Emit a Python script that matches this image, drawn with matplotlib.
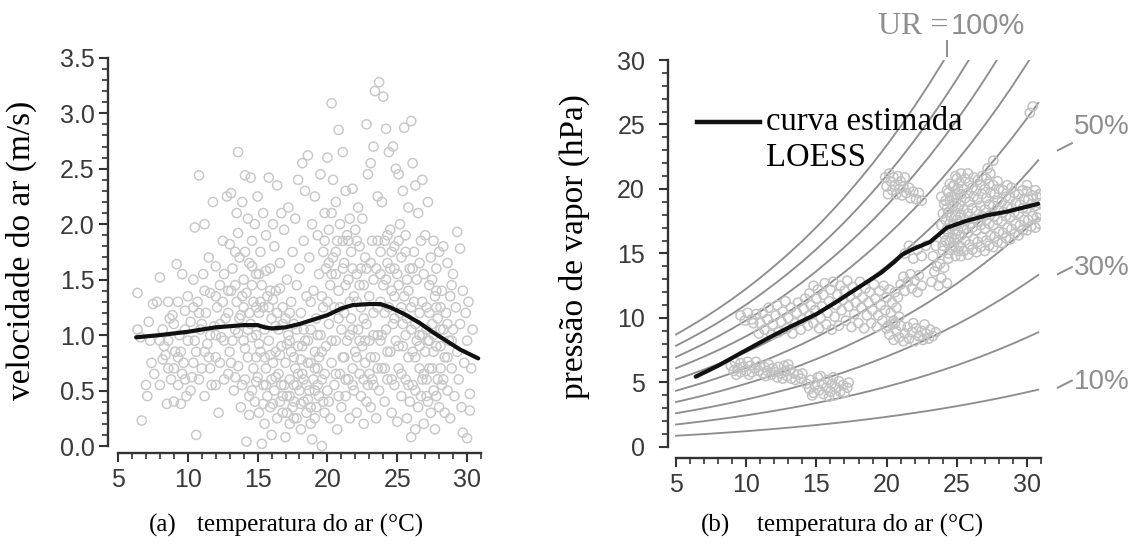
import matplotlib
matplotlib.use("Agg")
import matplotlib.pyplot as plt
from matplotlib.lines import Line2D
from matplotlib.ticker import MultipleLocator, FormatStrFormatter

# ---- (a) air temperature (°C) vs wind speed (m/s) ----
wind_pts = [
    (6.4, 1.38), (6.4, 1.05), (6.7, 0.23), (6.6, 0.98), (7.0, 0.55), (7.1, 0.45), (7.2, 1.12),
    (7.3, 0.95), (7.5, 1.28), (7.6, 0.65), (7.4, 0.75),
    (7.8, 1.30), (8.0, 1.52), (8.2, 1.05), (8.3, 0.90), (8.4, 0.82), (8.5, 0.38), (8.6, 0.70),
    (8.7, 1.15), (8.8, 0.60), (8.9, 1.18), (9.0, 0.40), (9.1, 0.85), (9.2, 1.64), (9.3, 0.55),
    (9.4, 1.00), (9.5, 0.38), (9.6, 1.55), (9.7, 0.75), (9.8, 1.22), (9.9, 0.45), (10.0, 0.95),
    (10.0, 1.35), (9.0, 1.10), (8.2, 0.78), (9.6, 0.65),
    (10.2, 1.12), (10.3, 0.62), (10.4, 1.50), (10.5, 1.97), (10.6, 0.10), (10.6, 0.85), (10.7, 1.30),
    (10.8, 2.44), (10.9, 1.05), (11.0, 0.70), (11.1, 1.55), (11.2, 2.00), (11.2, 0.45), (11.3, 1.20),
    (11.4, 0.92), (11.5, 1.70), (11.6, 1.38), (11.7, 0.55), (11.8, 2.20), (11.9, 1.08), (12.0, 0.80),
    (12.0, 1.62), (12.1, 1.25), (12.2, 0.30), (12.3, 1.45), (12.4, 0.98), (12.5, 1.85), (12.6, 0.60),
    (12.7, 1.15), (12.8, 2.25), (12.9, 1.40), (13.0, 0.85), (13.0, 1.82),
    (13.1, 2.28), (13.2, 1.60), (13.3, 0.50), (13.4, 1.05), (13.5, 2.10), (13.5, 1.30), (13.6, 2.65),
    (13.6, 0.72), (13.7, 1.70), (13.8, 0.35), (13.8, 1.18), (13.9, 2.20), (14.0, 0.95), (14.0, 1.50),
    (14.1, 2.44), (14.1, 0.60), (14.2, 0.04), (14.2, 1.38), (14.3, 2.05), (14.3, 0.80), (14.4, 1.65),
    (14.4, 0.28), (14.5, 2.42), (14.5, 1.10), (14.6, 0.50), (14.6, 1.85), (14.7, 0.70), (14.7, 1.30),
    (14.8, 2.00), (14.8, 0.40), (14.9, 1.00), (14.9, 1.55), (15.0, 0.62), (15.0, 2.25), (15.1, 1.20),
    (15.1, 0.30), (15.2, 1.75), (15.2, 0.85), (15.3, 0.02), (15.3, 1.45), (15.4, 0.55), (15.4, 2.10),
    (15.5, 1.05), (15.5, 0.20), (15.6, 1.90), (15.6, 0.70), (15.7, 1.35), (15.7, 0.45), (15.8, 2.42),
    (15.8, 0.95), (15.9, 1.60), (15.9, 0.35), (16.0, 0.10), (16.0, 1.15), (16.0, 0.60), (16.1, 2.00),
    (16.2, 1.80), (16.2, 0.50), (16.3, 0.85), (16.3, 1.40), (16.4, 0.25), (16.4, 2.35), (16.5, 1.05),
    (16.5, 0.65), (16.6, 1.65), (16.6, 0.40), (16.7, 2.10), (16.7, 0.90), (16.8, 0.30), (16.8, 1.25),
    (16.9, 0.55), (16.9, 1.95), (17.0, 0.75), (17.0, 0.08), (17.1, 1.50), (17.1, 0.45), (17.2, 2.15),
    (17.2, 1.00), (17.3, 0.60), (17.3, 0.20), (17.4, 1.30), (17.4, 0.85), (17.5, 1.75), (17.5, 0.35),
    (17.6, 0.55), (17.6, 1.10), (17.7, 2.05), (17.7, 0.70), (17.8, 0.25), (17.8, 1.45), (17.9, 0.90),
    (17.9, 2.40), (18.0, 0.50), (18.0, 1.60), (18.1, 0.15), (18.1, 1.20), (18.2, 2.55), (18.2, 0.65),
    (18.3, 0.40), (18.3, 1.85), (18.4, 0.95), (18.4, 2.30), (18.5, 0.30), (18.5, 1.35), (18.6, 0.75),
    (18.6, 2.62), (18.7, 0.50), (18.7, 1.70), (18.8, 1.05), (18.8, 0.20), (18.9, 0.06), (18.9, 2.00),
    (19.0, 0.60), (19.0, 1.40), (19.1, 0.85), (19.1, 2.25), (19.2, 0.35), (19.2, 1.15), (19.3, 1.90),
    (19.3, 0.70), (19.4, 0.45), (19.4, 1.55), (19.5, 2.45), (19.5, 1.00), (19.6, 0.00), (19.6, 0.60),
    (19.7, 1.75), (19.7, 1.25), (19.8, 2.10), (19.8, 0.30), (19.9, 0.90), (19.9, 1.60), (20.0, 2.60),
    (20.0, 0.50),
    (20.1, 1.95), (20.1, 1.10), (20.2, 0.25), (20.2, 1.45), (20.3, 3.09), (20.3, 0.75), (20.4, 2.40),
    (20.4, 1.70), (20.5, 0.55), (20.5, 1.25), (20.6, 2.20), (20.6, 0.95), (20.7, 0.15), (20.7, 1.85),
    (20.8, 2.85), (20.8, 1.40), (20.9, 0.65), (20.9, 2.00), (21.0, 1.05), (21.0, 0.35), (21.1, 2.65),
    (21.1, 1.60), (21.2, 0.80), (21.2, 1.20), (21.3, 2.30), (21.3, 0.45), (21.4, 1.90), (21.4, 0.95),
    (21.5, 1.50), (21.5, 0.60), (21.6, 2.05), (21.6, 0.25), (21.7, 1.15), (21.7, 1.75), (21.8, 2.32),
    (21.8, 0.70), (21.9, 1.35), (21.9, 0.50), (22.0, 1.95), (22.0, 0.85),
    (22.1, 1.55), (22.1, 0.30), (22.2, 2.15), (22.2, 1.05), (22.3, 0.65), (22.3, 1.80), (22.4, 1.25),
    (22.4, 0.45), (22.5, 2.05), (22.5, 0.90), (22.6, 1.45), (22.6, 0.20), (22.7, 1.70), (22.7, 0.75),
    (22.8, 2.90), (22.8, 1.10), (22.9, 0.55), (22.9, 2.45), (23.0, 1.35), (23.0, 0.95), (23.1, 2.55),
    (23.1, 0.35), (23.2, 1.85), (23.2, 0.60), (23.3, 2.70), (23.3, 1.20), (23.4, 3.20), (23.4, 0.80),
    (23.5, 1.60), (23.5, 0.25), (23.6, 2.25), (23.6, 1.00), (23.7, 3.28), (23.7, 0.50), (23.8, 1.75),
    (23.8, 1.30), (23.9, 2.20), (23.9, 0.70), (24.0, 3.15), (24.0, 1.45),
    (24.1, 0.40), (24.1, 1.85), (24.2, 2.86), (24.2, 1.05), (24.3, 0.60), (24.3, 1.65), (24.4, 2.65),
    (24.4, 1.25), (24.5, 0.85), (24.5, 1.95), (24.6, 0.30), (24.6, 1.40), (24.7, 2.70), (24.7, 1.10),
    (24.8, 0.55), (24.8, 1.80), (24.9, 2.50), (24.9, 0.95), (25.0, 0.22), (25.0, 1.55), (25.1, 2.45),
    (25.1, 0.70), (25.2, 1.20), (25.2, 2.00), (25.3, 0.45), (25.3, 1.70), (25.4, 2.30), (25.4, 0.90),
    (25.5, 2.87), (25.5, 1.35), (25.6, 0.60), (25.6, 1.90), (25.7, 0.25), (25.7, 1.15), (25.8, 2.15),
    (25.8, 0.80), (25.9, 1.60), (25.9, 0.40), (26.0, 2.93), (26.0, 0.08), (26.0, 1.05),
    (26.1, 2.55), (26.1, 0.55), (26.2, 1.75), (26.2, 1.30), (26.3, 0.15), (26.3, 2.35), (26.4, 0.95),
    (26.4, 1.50), (26.5, 0.35), (26.5, 2.10), (26.6, 1.20), (26.6, 0.70), (26.7, 1.85), (26.7, 0.45),
    (26.8, 2.40), (26.8, 1.00), (26.9, 0.20), (26.9, 1.55), (27.0, 0.85), (27.0, 1.90), (27.1, 0.60),
    (27.1, 1.25), (27.2, 2.20), (27.2, 0.40), (27.3, 1.45), (27.3, 0.95), (27.4, 1.70), (27.4, 0.30),
    (27.5, 1.10), (27.5, 0.70), (27.6, 1.85), (27.6, 0.50), (27.7, 1.35), (27.7, 0.15), (27.8, 0.90),
    (27.8, 1.60), (27.9, 0.60), (27.9, 1.15), (28.0, 1.75), (28.0, 0.35),
    (28.1, 1.05), (28.2, 0.55), (28.2, 1.40), (28.3, 1.80), (28.4, 0.80), (28.4, 0.30), (28.5, 1.20),
    (28.6, 1.65), (28.6, 0.50), (28.7, 0.95), (28.8, 1.35), (28.8, 0.25), (28.9, 0.70), (29.0, 1.55),
    (29.0, 1.05), (29.1, 0.45), (29.2, 1.25), (29.3, 1.93), (29.3, 0.85), (29.4, 0.60), (29.5, 1.78),
    (29.5, 1.10), (29.6, 0.35), (29.7, 0.12), (29.7, 1.40), (29.8, 0.75), (29.9, 1.20), (30.0, 0.07),
    (30.0, 0.95), (30.1, 1.30), (30.2, 0.47), (30.2, 0.32), (30.3, 0.70), (30.4, 1.05),
]
# the dense middle of the cloud
wind_core = [
    (13.2, 0.95), (13.4, 1.45), (13.7, 1.15), (14.0, 1.25), (14.3, 1.05), (14.6, 1.45), (14.9, 0.80),
    (15.2, 1.30), (15.5, 0.80), (15.8, 1.25), (16.1, 0.75), (16.4, 1.20), (16.7, 0.55), (17.0, 1.15),
    (17.3, 0.95), (17.6, 0.40), (17.9, 0.65), (18.2, 0.90), (18.5, 0.55), (18.8, 0.75), (19.1, 0.50),
    (19.4, 0.80), (19.7, 0.40), (20.0, 1.30), (20.3, 1.55), (20.6, 1.75), (20.9, 1.25), (21.2, 1.65),
    (21.5, 1.85), (21.8, 1.05), (22.1, 1.30), (22.4, 1.60), (22.7, 0.95), (23.0, 0.65), (23.3, 1.50),
    (23.6, 1.25), (23.9, 1.00), (24.2, 1.50), (24.5, 1.60), (24.8, 1.35), (25.1, 1.45), (25.4, 1.10),
    (25.7, 1.50), (26.0, 1.25), (26.3, 0.80), (26.6, 1.00), (26.9, 0.65), (27.2, 0.95), (27.5, 1.50),
    (27.8, 1.25), (28.1, 0.70), (11.0, 1.10), (11.5, 0.80), (12.0, 1.00), (12.5, 1.30), (10.5, 0.95),
    (9.5, 0.85), (9.0, 0.70), (10.2, 0.50),
    (12.6, 0.95), (12.6, 1.55), (12.9, 0.65), (12.9, 1.20), (13.1, 1.40), (13.1, 0.75), (13.4, 0.62),
    (13.4, 1.75), (13.6, 1.02), (13.6, 1.92), (13.9, 0.55), (13.9, 1.35), (14.1, 0.88), (14.1, 1.75),
    (14.4, 1.20), (14.4, 0.45), (14.6, 0.98), (14.6, 1.62), (14.9, 0.58), (14.9, 1.25), (15.1, 1.55),
    (15.1, 0.92), (15.4, 0.38), (15.4, 1.25), (15.6, 0.55), (15.6, 1.58), (15.9, 0.82), (15.9, 1.40),
    (16.1, 0.38), (16.1, 1.32), (16.3, 0.62), (16.3, 1.08), (16.6, 0.82), (16.6, 1.42), (16.8, 0.45),
    (16.8, 1.10), (17.1, 0.30), (17.1, 0.92), (17.3, 0.45), (17.3, 1.20), (17.6, 0.80), (17.6, 0.25),
    (17.8, 0.55), (17.8, 1.05), (18.1, 0.38), (18.1, 0.78), (18.3, 0.60), (18.3, 1.05), (18.6, 0.42),
    (18.6, 0.95), (18.8, 0.35), (18.8, 1.30), (19.1, 0.70), (19.1, 0.25), (19.3, 0.55), (19.3, 1.00),
    (19.6, 0.85), (19.6, 1.35), (19.8, 0.65), (19.8, 1.85), (20.1, 0.40), (20.1, 1.65), (20.3, 0.95),
    (20.3, 2.10), (20.6, 0.65), (20.6, 1.55), (20.8, 0.45), (20.8, 1.15), (21.1, 0.80), (21.1, 1.85),
    (21.3, 0.60), (21.3, 1.45), (21.6, 1.00), (21.6, 1.30), (21.8, 0.55), (21.8, 1.60), (22.1, 0.80),
    (22.1, 1.85), (22.3, 0.95), (22.3, 1.45), (22.6, 0.60), (22.6, 1.15), (22.8, 0.40), (22.8, 1.60),
    (23.1, 0.80), (23.1, 1.65), (23.3, 0.55), (23.3, 1.00), (23.6, 0.70), (23.6, 1.85), (23.8, 0.95),
    (23.8, 1.55), (24.1, 1.20), (24.1, 0.70), (24.3, 0.85), (24.3, 1.90), (24.6, 0.60), (24.6, 1.75),
    (24.8, 1.15), (24.8, 1.60), (25.1, 0.90), (25.1, 1.85), (25.3, 1.25), (25.3, 0.65), (25.6, 1.00),
    (25.6, 1.75), (25.8, 0.55), (25.8, 1.40), (26.1, 0.85), (26.1, 1.60), (26.3, 1.10), (26.3, 0.50),
    (26.6, 0.90), (26.6, 1.65), (26.8, 0.60), (26.8, 1.30), (27.1, 0.45), (27.1, 1.05), (27.3, 0.70),
    (27.3, 1.20), (27.6, 1.00), (27.6, 0.85), (27.8, 0.45), (27.8, 1.40), (28.1, 0.90), (28.1, 1.25),
    (28.3, 0.60), (28.3, 1.05), (28.6, 0.80), (28.6, 1.10), (28.9, 0.95), (28.9, 1.45), (10.4, 0.75),
    (10.4, 1.25), (10.8, 1.20), (10.8, 0.60), (11.2, 0.85), (11.2, 1.40), (11.6, 1.00), (11.6, 0.70),
    (12.0, 1.35), (12.0, 0.55), (12.3, 1.10), (12.3, 0.75), (8.0, 0.95), (8.0, 0.55), (8.6, 1.30),
    (8.6, 0.95), (9.3, 1.30), (9.3, 0.80), (9.8, 1.05), (9.8, 0.60),
]
wind_temp = [p[0] for p in wind_pts + wind_core]
wind_speed = [p[1] for p in wind_pts + wind_core]

loess_a_temp = [6.3, 8, 10, 11, 12, 13, 14, 15, 15.5, 16, 17, 18, 19, 20, 21, 21.8, 23, 23.8,
                24.5, 25.5, 26.6, 27.5, 28.5, 29.5, 30.8]
loess_a_speed = [0.98, 1.00, 1.03, 1.05, 1.07, 1.08, 1.09, 1.09, 1.07, 1.06, 1.07, 1.10, 1.14,
                 1.18, 1.24, 1.27, 1.28, 1.28, 1.25, 1.19, 1.11, 1.03, 0.95, 0.87, 0.79]

# ---- (b) air temperature (°C) vs vapour pressure (hPa), clusters ----
vap_low_left = [
    (8.9, 6.3), (9.1, 5.9), (9.2, 6.6), (9.4, 6.1), (9.6, 5.8), (9.6, 6.5), (9.8, 6.2), (10.0, 5.9),
    (10.1, 6.6), (10.3, 6.3), (10.4, 5.8), (10.6, 6.1), (10.7, 6.6), (10.9, 5.9), (11.0, 6.3),
    (11.2, 5.7), (11.3, 6.2), (11.5, 5.9), (11.6, 6.4), (11.8, 5.6), (11.9, 6.1), (12.1, 5.8),
    (12.2, 5.4), (12.3, 6.2), (12.5, 5.7), (12.6, 5.3), (12.8, 5.9), (12.9, 5.5), (13.1, 6.0),
    (13.2, 5.3), (13.4, 5.7), (13.5, 5.2), (13.7, 5.6), (13.9, 5.3), (14.0, 5.7), (10.2, 5.6),
    (11.4, 5.5), (12.7, 6.3), (9.3, 5.6), (13.0, 6.4),
]
vap_low_right = [
    (14.3, 4.9), (14.5, 4.5), (14.6, 5.2), (14.8, 4.2), (14.9, 4.8), (15.1, 5.4), (15.2, 4.4),
    (15.4, 4.9), (15.5, 4.1), (15.7, 4.6), (15.8, 5.2), (16.0, 4.3), (16.1, 4.9), (16.3, 4.0),
    (16.4, 4.6), (16.6, 5.1), (16.7, 4.3), (16.9, 4.8), (17.0, 4.2), (17.2, 4.6), (17.3, 5.0),
    (15.3, 5.5), (16.2, 5.4), (14.7, 4.0), (15.9, 3.9),
]
vap_mid = [
    (20.0, 9.2), (20.2, 8.7), (20.4, 9.5), (20.5, 8.3), (20.7, 9.0), (20.9, 8.5), (21.0, 9.4),
    (21.2, 8.2), (21.3, 8.8), (21.5, 9.3), (21.6, 8.4), (21.8, 8.9), (22.0, 8.2), (22.1, 9.2),
    (22.3, 8.6), (22.5, 9.0), (22.6, 8.3), (22.8, 8.8), (23.0, 8.4), (23.1, 9.1), (23.3, 8.6),
    (23.5, 8.9), (21.9, 9.6), (20.6, 9.6), (22.7, 9.5),
]
vap_band = [
    (9.6, 10.2), (9.9, 9.8), (10.1, 10.4), (10.4, 9.9), (10.7, 10.3), (10.5, 9.6),
    (10.9, 8.8), (11.0, 9.6), (11.2, 10.4), (11.3, 9.1), (11.5, 9.9), (11.6, 10.8), (11.8, 8.7),
    (11.9, 9.5), (12.1, 10.2), (12.2, 11.0), (12.3, 8.9), (12.5, 9.7), (12.6, 10.5), (12.8, 11.3),
    (12.9, 9.2), (13.0, 10.0), (13.2, 10.8), (13.3, 8.8), (13.5, 9.6), (13.6, 10.4), (13.7, 11.2),
    (13.9, 9.1), (14.0, 9.9), (14.1, 10.7), (14.2, 11.5),
    (14.4, 9.4), (14.5, 10.2), (14.5, 11.9), (14.6, 11.0), (14.8, 12.5), (14.8, 9.6), (14.9, 10.6),
    (15.0, 11.5), (15.1, 12.2), (15.2, 9.2), (15.3, 10.0), (15.4, 10.9), (15.5, 11.8), (15.6, 12.7),
    (15.7, 9.5), (15.8, 10.4), (15.9, 11.3), (16.0, 12.2), (16.1, 9.1), (16.2, 12.8), (16.3, 10.1),
    (16.4, 11.0), (16.5, 11.8), (16.6, 9.4), (16.7, 12.5), (16.8, 10.6), (16.9, 11.4), (17.0, 12.1),
    (17.1, 9.8), (17.2, 12.9), (17.3, 10.9), (17.4, 11.7), (17.5, 9.3), (17.6, 12.4), (17.7, 10.3),
    (17.8, 11.2), (17.9, 12.0), (18.0, 9.6), (18.1, 12.8), (18.2, 10.8), (18.3, 11.6), (18.4, 9.2),
    (18.5, 12.3), (18.6, 10.2),
    (18.7, 11.2), (18.8, 12.0), (18.9, 9.6), (19.0, 10.6), (19.1, 12.6), (19.2, 11.5), (19.3, 9.3),
    (19.4, 10.2), (19.5, 12.1), (19.6, 11.0), (19.7, 9.8), (19.8, 12.5), (19.9, 10.6), (20.0, 11.6),
    (20.1, 9.4), (20.2, 12.2), (20.3, 10.4), (20.4, 11.2), (20.5, 9.8), (20.6, 12.0), (20.7, 10.8),
    (20.8, 11.6), (20.9, 10.1),
    (21.0, 12.6), (21.2, 13.2), (21.3, 12.1), (21.5, 12.8), (21.7, 13.4), (21.8, 12.3), (22.0, 12.9),
    (22.2, 12.0), (22.3, 13.3), (22.5, 12.5),
    (21.3, 15.0), (21.6, 15.6), (21.9, 14.6), (22.2, 15.3), (22.5, 14.8), (22.8, 15.6),
    (23.2, 12.8), (23.4, 13.6), (23.3, 14.8), (23.5, 15.6), (23.7, 12.5), (23.8, 14.2), (23.9, 13.1),
    (24.0, 15.2), (24.1, 13.9), (24.3, 12.7), (24.4, 14.6), (24.5, 15.9), (23.6, 14.0), (24.2, 16.0),
]
vap_upper = [
    (19.9, 20.9), (20.0, 20.2), (20.1, 19.6), (20.2, 21.2), (20.3, 20.6), (20.4, 19.9), (20.5, 20.9),
    (20.6, 20.3), (20.7, 19.6), (20.8, 21.0), (20.9, 20.0), (21.0, 20.6), (21.1, 19.5), (21.2, 20.2),
    (21.4, 19.7), (21.6, 20.1), (21.7, 19.3), (21.9, 19.8), (22.1, 19.2), (22.3, 19.7), (22.5, 19.1),
    (21.3, 20.9),
]
vap_warm = [
    (24.0, 15.6), (24.1, 16.5), (23.9, 17.2), (24.0, 18.1), (24.1, 18.8), (23.9, 19.4),
    (24.2, 16.0), (24.3, 16.9), (24.2, 17.6), (24.3, 18.5), (24.2, 19.1), (24.3, 19.9),
    (24.4, 15.0), (24.5, 15.9), (24.4, 16.6), (24.5, 17.3), (24.4, 18.2), (24.5, 19.1), (24.4, 19.7),
    (24.5, 20.4), (24.7, 15.4), (24.6, 16.2), (24.7, 17.1), (24.6, 17.8), (24.7, 18.6), (24.6, 19.4),
    (24.7, 20.2), (24.9, 14.8), (24.8, 15.6), (24.9, 16.5), (24.8, 17.2), (24.9, 18.0), (24.8, 18.9),
    (24.9, 19.6), (24.8, 20.3), (24.9, 21.0), (25.1, 15.2), (25.0, 16.1), (25.1, 16.8), (25.0, 17.6),
    (25.1, 18.5), (25.0, 19.2), (25.1, 20.0), (25.0, 20.8), (25.3, 14.8), (25.2, 15.6), (25.3, 16.4),
    (25.2, 17.3), (25.3, 18.0), (25.2, 18.8), (25.3, 19.6), (25.2, 20.5), (25.3, 21.2), (25.5, 15.2),
    (25.6, 16.0), (25.5, 16.9), (25.6, 17.6), (25.5, 18.4), (25.6, 19.3), (25.5, 20.0), (25.6, 20.8),
    (25.8, 14.9), (25.9, 15.7), (25.8, 16.6), (25.9, 17.3), (25.8, 18.1), (25.9, 19.0), (25.8, 19.7),
    (25.9, 20.5), (25.8, 21.2), (26.1, 15.3), (26.2, 16.1), (26.1, 17.0), (26.2, 17.7), (26.1, 18.5),
    (26.2, 19.4), (26.1, 20.1), (26.2, 20.9), (26.4, 15.1), (26.5, 15.9), (26.4, 16.8), (26.5, 17.5),
    (26.4, 18.3), (26.5, 19.2), (26.4, 19.9), (26.5, 20.7), (26.7, 15.5), (26.8, 16.3), (26.7, 17.2),
    (26.8, 17.9), (26.7, 18.7), (26.8, 19.6), (26.7, 20.3), (26.8, 21.0), (27.0, 15.2), (27.1, 16.0),
    (27.0, 16.9), (27.1, 17.6), (27.0, 18.4), (27.1, 19.3), (27.0, 20.0), (27.1, 20.8), (27.3, 15.6),
    (27.4, 16.4), (27.3, 17.3), (27.4, 18.0), (27.3, 18.8), (27.4, 19.7), (27.3, 20.4), (27.4, 21.2),
    (27.6, 15.5), (27.7, 16.3), (27.6, 17.2), (27.7, 17.9), (27.6, 18.7), (27.7, 19.6), (27.6, 20.3),
    (27.9, 15.9), (28.0, 16.7), (27.9, 17.6), (28.0, 18.3), (27.9, 19.1), (28.0, 20.0), (27.9, 20.6),
    (28.2, 15.8), (28.3, 16.6), (28.2, 17.5), (28.3, 18.2), (28.2, 19.0), (28.3, 19.9), (28.5, 16.2),
    (28.6, 17.0), (28.5, 17.9), (28.6, 18.6), (28.5, 19.4), (28.6, 20.3), (28.8, 16.1), (28.9, 16.9),
    (28.8, 17.8), (28.9, 18.5), (28.8, 19.3), (28.9, 20.1), (29.1, 16.5), (29.2, 17.3), (29.1, 18.2),
    (29.2, 18.9), (29.1, 19.7), (29.4, 16.4), (29.5, 17.2), (29.4, 18.1), (29.5, 18.8), (29.4, 19.6),
    (29.7, 16.8), (29.8, 17.6), (29.7, 18.5), (29.8, 19.2), (29.7, 19.9), (30.0, 16.8), (30.1, 17.6),
    (30.0, 18.5), (30.1, 19.2), (30.0, 19.8), (30.3, 17.1), (30.4, 17.9), (30.3, 18.8), (30.4, 19.5),
    (30.6, 17.0), (30.7, 17.8), (30.6, 18.7), (30.7, 19.4), (30.6, 19.9), (30.9, 17.3), (30.9, 18.1),
    (30.9, 18.9), (30.9, 19.6),
    (27.2, 21.6), (27.6, 22.2), (30.2, 25.9), (30.4, 26.4), (30.0, 20.3),
]
vap_all = vap_low_left + vap_low_right + vap_mid + vap_band + vap_upper + vap_warm
vap_temp = [p[0] for p in vap_all]
vap_press = [p[1] for p in vap_all]

loess_b_temp = [6.4, 8, 9.65, 11.5, 13.1, 15.0, 16.5, 17.9, 19.6, 20.5, 21.1, 21.8, 23.1, 24.3,
                25.6, 27.1, 28.6, 30.8]
loess_b_press = [5.45, 6.3, 7.3, 8.4, 9.3, 10.3, 11.3, 12.3, 13.5, 14.3, 14.9, 15.3, 15.9, 17.0,
                 17.5, 17.95, 18.25, 18.85]

# saturation vapour pressure (hPa) along the 100% curve
es_temp = list(range(5, 31)) + [30.8]
es_hpa = [8.72, 9.35, 10.01, 10.72, 11.47, 12.27, 13.12, 14.02, 14.97, 15.97, 17.04, 18.17,
          19.36, 20.63, 21.96, 23.37, 24.86, 26.43, 28.08, 29.83, 31.67, 33.61, 35.66, 37.81,
          40.07, 42.46, 44.45]
rh_levels = [1.0, 0.9, 0.8, 0.7, 0.6, 0.5, 0.4, 0.3, 0.2, 0.1]

SANS = "Liberation Sans"
SERIF = "Liberation Serif"
AX_COL = "#333333"
RH_COL = "#8e8e8e"


def style_axis(ax, yb, ymin_step, ypad):
    for s in ("top", "right"):
        ax.spines[s].set_visible(False)
    for s in ("left", "bottom"):
        ax.spines[s].set_color(AX_COL)
        ax.spines[s].set_linewidth(1.7)
    ax.spines["bottom"].set_bounds(5, 31)
    ax.spines["left"].set_bounds(*yb)
    ax.set_xticks(range(5, 31, 5))
    ax.xaxis.set_minor_locator(MultipleLocator(1))
    ax.yaxis.set_minor_locator(MultipleLocator(ymin_step))
    ax.tick_params(which="major", direction="out", length=6.5, width=1.5, color=AX_COL,
                   labelsize=18, labelcolor="#3a3a3a")
    ax.tick_params(axis="x", which="major", pad=4)
    ax.tick_params(axis="y", which="major", pad=ypad)
    ax.tick_params(which="minor", direction="out", length=4, width=1.2, color=AX_COL)
    for lab in ax.get_xticklabels() + ax.get_yticklabels():
        lab.set_fontfamily(SANS)


fig = plt.figure(figsize=(11.45, 5.5), dpi=100)

# ---- panel (a) ----
ax1 = fig.add_axes([108 / 1145, 97 / 550, 373 / 1145, 400.5 / 550])
ax1.scatter(wind_temp, wind_speed, s=44, facecolors="none", edgecolors="#c8c8c8",
            linewidths=1.05, clip_on=False, zorder=2)
ax1.plot(loess_a_temp, loess_a_speed, color="#111111", lw=3.0, solid_capstyle="round", zorder=3)
ax1.set_xlim(4.284, 31.0)
ax1.set_ylim(-0.063, 3.548)
ax1.yaxis.set_major_locator(MultipleLocator(0.5))
ax1.yaxis.set_major_formatter(FormatStrFormatter("%.1f"))
style_axis(ax1, (0, 3.5), 0.1, 3)
ax1.set_ylabel("velocidade do ar (m/s)", fontfamily=SERIF, fontsize=24)
ax1.yaxis.set_label_coords(-0.19, 0.505)

# ---- panel (b) ----
ax2 = fig.add_axes([668 / 1145, 92 / 550, 373 / 1145, 398 / 550])
for rh in rh_levels:
    ax2.plot(es_temp, [rh * e for e in es_hpa], color=RH_COL, lw=1.35, zorder=1)
ax2.scatter(vap_temp, vap_press, s=44, facecolors="none", edgecolors="#c2c2c2", linewidths=1.1,
            zorder=2)
ax2.plot(loess_b_temp, loess_b_press, color="#111111", lw=3.0, solid_capstyle="round", zorder=3)
ax2.set_xlim(4.43, 31.0)
ax2.set_ylim(-0.853, 30)
ax2.yaxis.set_major_locator(MultipleLocator(5))
style_axis(ax2, (0, 30), 1, 10)
ax2.set_ylabel("pressão de vapor (hPa)", fontfamily=SERIF, fontsize=24)
ax2.yaxis.set_label_coords(-0.209, 0.53)

# legend drawn by hand so the line sits on the first text line
ax2.add_line(Line2D([0.078, 0.247], [0.844, 0.844], transform=ax2.transAxes, color="#111111",
                    lw=3.2))
ax2.text(0.262, 0.846, "curva estimada", transform=ax2.transAxes, fontfamily=SERIF,
         fontsize=23.5, va="center", ha="left")
ax2.text(0.262, 0.754, "LOESS", transform=ax2.transAxes, fontfamily=SERIF, fontsize=23.5,
         va="center", ha="left")

# RH labels
ax2.text(24.4, 32.6, "UR =", fontfamily=SERIF, fontsize=23, color=RH_COL, ha="right",
         va="center", clip_on=False)
ax2.text(24.6, 32.6, "100%", fontfamily=SANS, fontsize=21, color=RH_COL, ha="left",
         va="center", clip_on=False)
ax2.plot([24.3, 24.3], [30.3, 31.5], color=RH_COL, lw=1.4, clip_on=False)
for lab, yl, yd in [("50%", 24.8, 23.0), ("30%", 13.9, 13.4), ("10%", 5.0, 4.6)]:
    ax2.plot([32.2, 33.2], [yd, yd + 0.55], color=RH_COL, lw=1.4, clip_on=False)
    ax2.text(33.35, yl, lab, fontfamily=SANS, fontsize=20, color=RH_COL, ha="left",
             va="center", clip_on=False)

# captions
for xc, txt in [(163, "(a)"), (310, "temperatura do ar (°C)"), (716, "(b)"),
                (870, "temperatura do ar (°C)")]:
    fig.text(xc / 1145, 1 - 525 / 550, txt, fontfamily=SERIF, fontsize=18, ha="center",
             va="center")

fig.savefig("out.png", dpi=100)
